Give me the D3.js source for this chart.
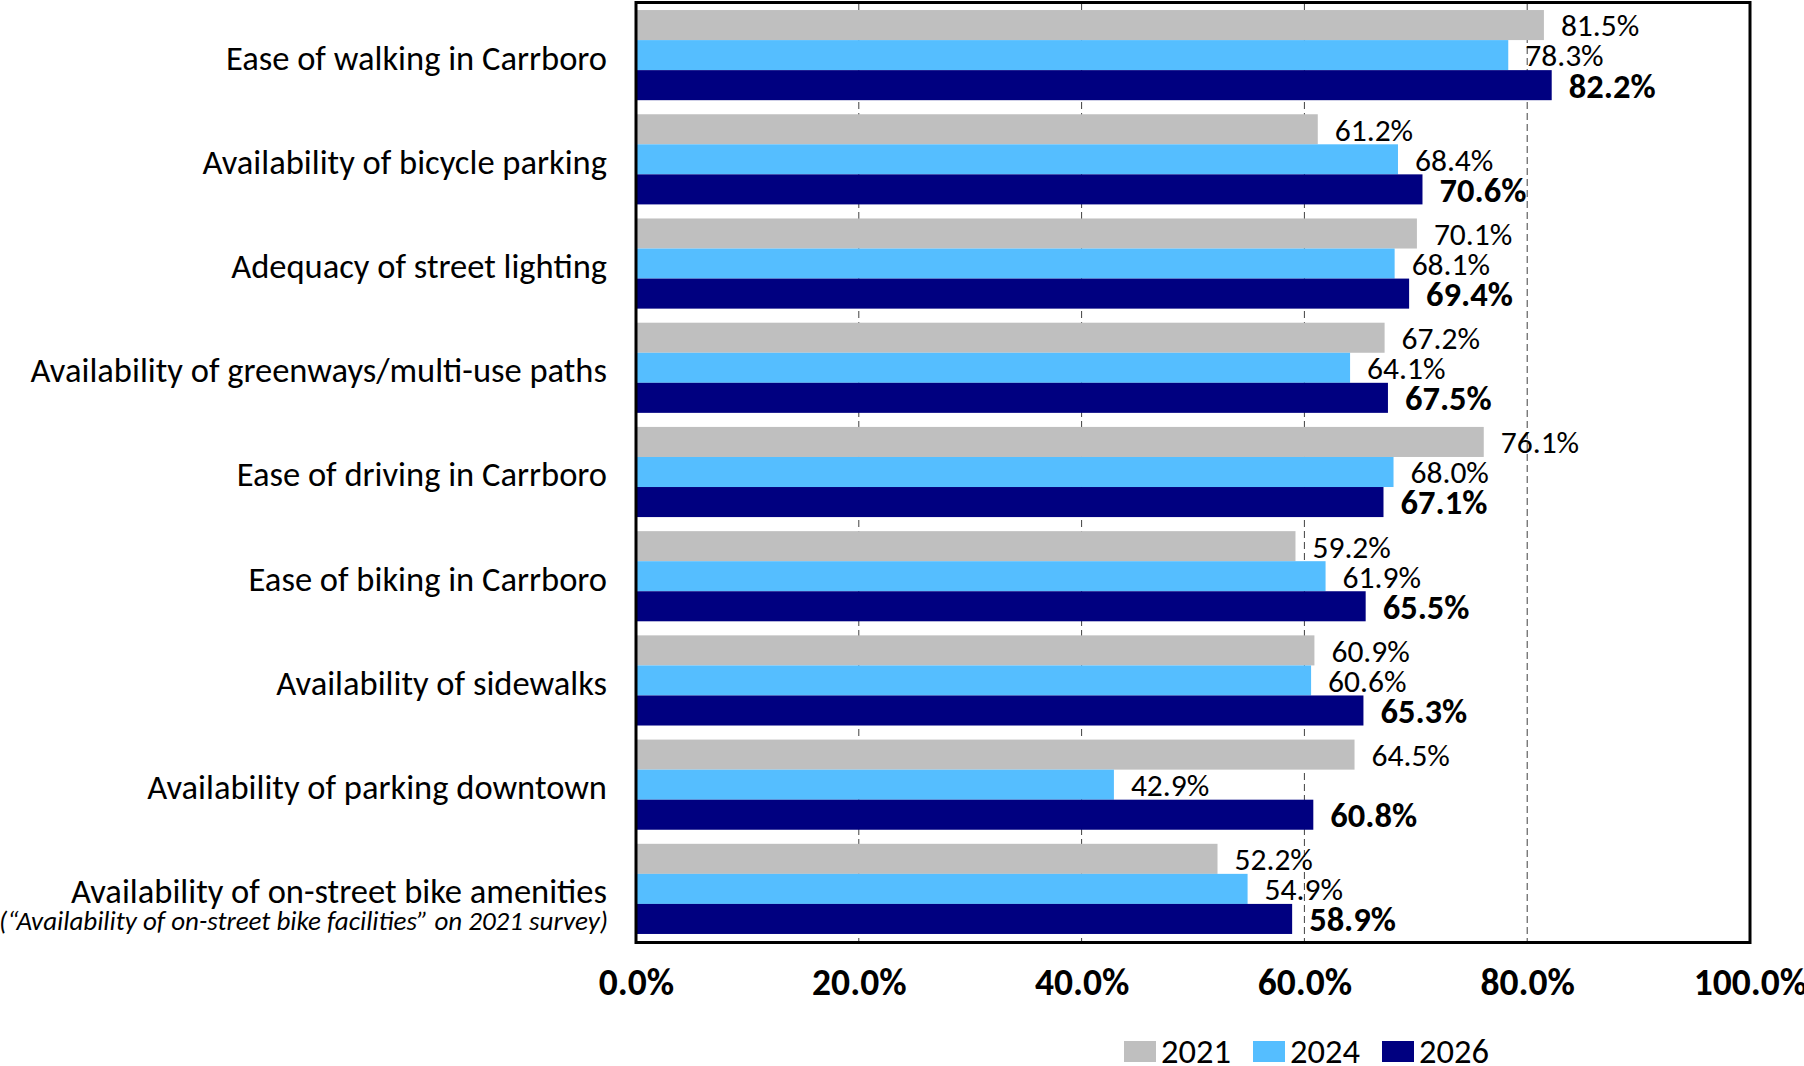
<!DOCTYPE html>
<html>
<head>
<meta charset="utf-8">
<script src="https://cdn.jsdelivr.net/npm/d3@7"></script>
<style>
  html, body { margin: 0; padding: 0; background: #fff; }
  svg { display: block; }
  text { font-family: Carlito, Calibri, Lato, "Noto Sans", sans-serif; fill: #000; }
</style>
</head>
<body>
<svg id="chart" width="1804" height="1066"></svg>
<script>
// ---- data ----
const categories = [
  "Ease of walking in Carrboro",
  "Availability of bicycle parking",
  "Adequacy of street lighting",
  "Availability of greenways/multi-use paths",
  "Ease of driving in Carrboro",
  "Ease of biking in Carrboro",
  "Availability of sidewalks",
  "Availability of parking downtown",
  "Availability of on-street bike amenities"
];
const subNotes = ["", "", "", "", "", "", "", "",
  "(\u201CAvailability of on-street bike facilities\u201D on 2021 survey)"];
const seriesNames = ["2021", "2024", "2026"];
const values2021 = [81.5, 61.2, 70.1, 67.2, 76.1, 59.2, 60.9, 64.5, 52.2];
const values2024 = [78.3, 68.4, 68.1, 64.1, 68.0, 61.9, 60.6, 42.9, 54.9];
const values2026 = [82.2, 70.6, 69.4, 67.5, 67.1, 65.5, 65.3, 60.8, 58.9];
const xTicks = [0, 20, 40, 60, 80, 100];
const gridTicks = [20, 40, 60, 80];
const colors = ["#BFBFBF", "#55BEFF", "#000080"];

const seriesValues = [values2021, values2024, values2026];

// ---- layout ----
const svg = d3.select("#chart");
const plot = { left: 636, right: 1750, top: 3, bottom: 941 };

const x = d3.scaleLinear().domain([0, 100]).range([plot.left, plot.right]);
const y = d3.scaleBand().domain(categories).range([plot.top, plot.bottom])
  .paddingInner(0.135).paddingOuter(0.0675);
const ySub = d3.scaleBand().domain(seriesNames).range([0, y.bandwidth()]);

// gridlines
svg.append("g").selectAll("line").data(gridTicks).join("line")
  .attr("x1", d => x(d)).attr("x2", d => x(d))
  .attr("y1", plot.top).attr("y2", plot.bottom)
  .attr("stroke", "#404040").attr("stroke-width", 1)
  .attr("stroke-dasharray", "7,4");

// bars
const groups = svg.append("g").selectAll("g").data(categories).join("g")
  .attr("transform", d => `translate(0,${y(d)})`);

seriesNames.forEach((s, si) => {
  groups.append("rect")
    .attr("x", x(0))
    .attr("y", ySub(s))
    .attr("width", (d, i) => x(seriesValues[si][i]) - x(0))
    .attr("height", ySub.bandwidth())
    .attr("fill", colors[si]);
});

// value labels
seriesNames.forEach((s, si) => {
  groups.append("text")
    .attr("x", (d, i) => x(seriesValues[si][i]) + 17)
    .attr("y", ySub(s) + ySub.bandwidth() / 2)
    .attr("dy", "0.36em")
    .attr("font-size", si === 2 ? 34.5 : 31.5)
    .attr("font-weight", si === 2 ? "bold" : "normal")
    .text((d, i) => seriesValues[si][i].toFixed(1) + "%");
});

// category labels
const catG = svg.append("g");
categories.forEach((c, i) => {
  const cy = y(c) + y.bandwidth() / 2 + 2;
  catG.append("text")
    .attr("x", 607).attr("y", cy)
    .attr("dy", "0.36em")
    .attr("text-anchor", "end")
    .attr("font-size", 34.5)
    .text(c);
  if (subNotes[i]) {
    catG.append("text")
      .attr("x", 608).attr("y", cy + 29)
      .attr("dy", "0.36em")
      .attr("text-anchor", "end")
      .attr("font-size", 27)
      .attr("font-style", "italic")
      .text(subNotes[i]);
  }
});

// plot border
svg.append("rect")
  .attr("x", plot.left).attr("y", plot.top - 0.5)
  .attr("width", plot.right - plot.left).attr("height", plot.bottom - plot.top + 2)
  .attr("fill", "none").attr("stroke", "#000").attr("stroke-width", 3);

// x axis labels
const xAxis = d3.axisBottom(x).tickValues(xTicks)
  .tickFormat(d => d.toFixed(1) + "%").tickSize(0).tickPadding(0);
const axG = svg.append("g").attr("transform", `translate(0,${plot.bottom})`).call(xAxis);
axG.select(".domain").remove();
axG.selectAll("text")
  .attr("y", 54).attr("dy", 0)
  .attr("font-size", 37.5).attr("font-weight", "bold")
  .attr("font-family", "Carlito, Calibri, Lato, sans-serif")
  .attr("fill", "#000");

// legend
const legend = svg.append("g").attr("transform", "translate(1124,1041)");
const items = legend.selectAll("g").data(seriesNames).join("g")
  .attr("transform", (d, i) => `translate(${i * 129},0)`);
items.append("rect").attr("width", 32).attr("height", 21)
  .attr("fill", (d, i) => colors[i]);
items.append("text").attr("x", 37).attr("y", 21.5)
  .attr("font-size", 34.5).text(d => d);
</script>
</body>
</html>
